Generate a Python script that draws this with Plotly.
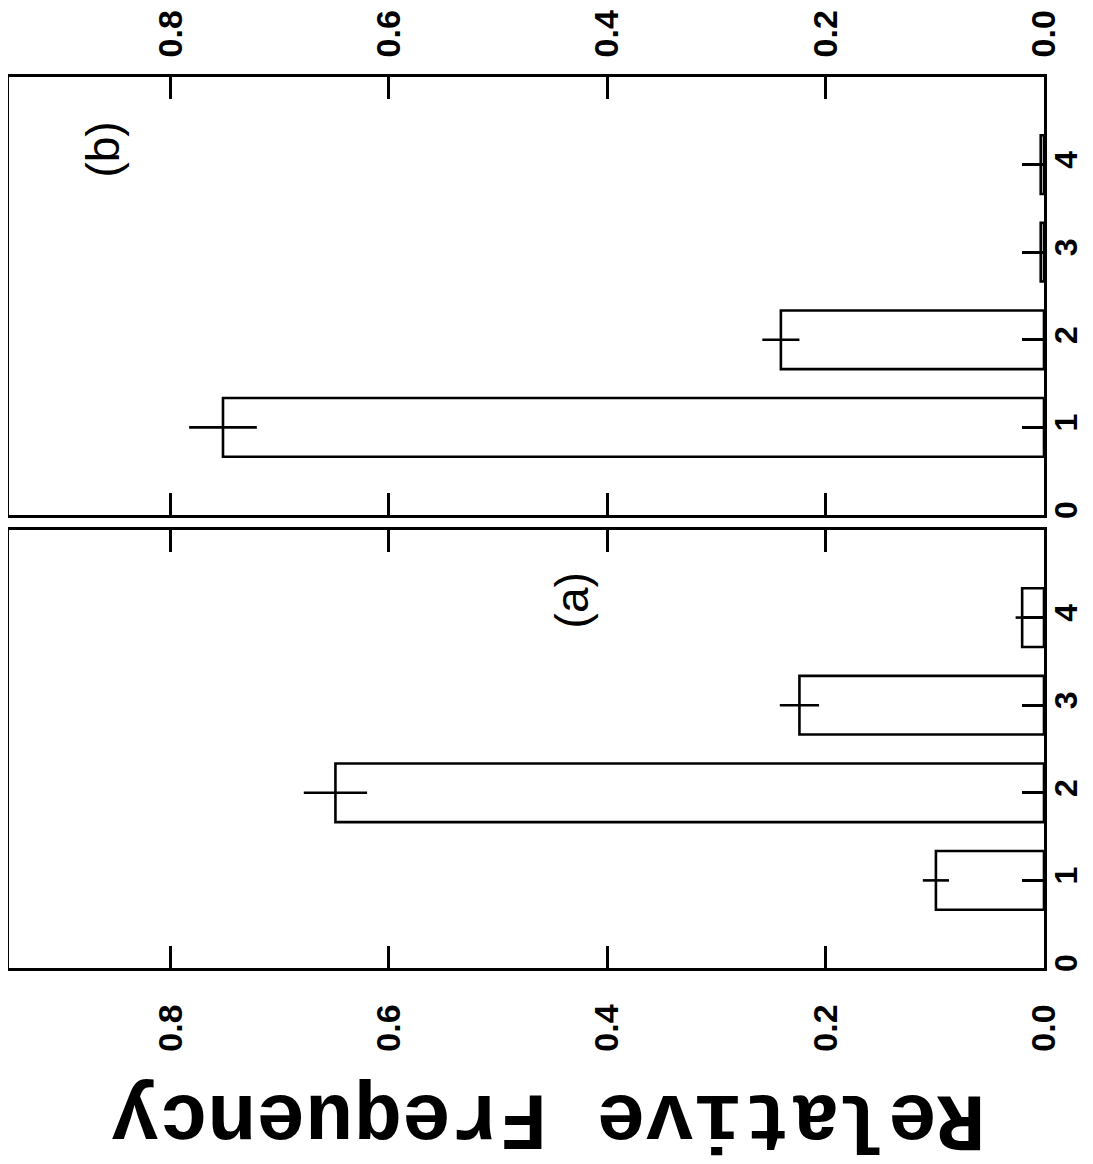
import plotly.graph_objects as go

# Data
categories_a = [1, 2, 3, 4]
freq_a = [0.099, 0.649, 0.224, 0.020]
err_a = [0.012, 0.029, 0.018, 0.006]

categories_b = [1, 2, 3, 4]
freq_b = [0.752, 0.241, 0.003, 0.003]
err_b = [0.031, 0.017, 0.0, 0.0]

value_ticks = [0.0, 0.2, 0.4, 0.6, 0.8]
value_tick_text = ["0.0", "0.2", "0.4", "0.6", "0.8"]
cat_ticks = [0, 1, 2, 3, 4]
cat_tick_text = ["0", "1", "2", "3", "4"]

LW = 2.6
tickfont = dict(family="Liberation Sans", size=34, color="black", weight="bold")

fig = go.Figure()

def add_bars(cats, vals, errs, xa, ya):
    fig.add_trace(go.Bar(
        y=cats, x=vals, orientation="h", width=0.67,
        marker=dict(color="white", line=dict(color="black", width=LW)),
        error_x=dict(type="data", array=errs, visible=True, width=0,
                     thickness=LW, color="black"),
        xaxis=xa, yaxis=ya, showlegend=False,
    ))

add_bars(categories_a, freq_a, err_a, "x", "y")
add_bars(categories_b, freq_b, err_b, "x2", "y2")

xcommon = dict(range=[0.948, 0], tickvals=value_ticks, ticktext=value_tick_text,
               ticks="inside", ticklen=22, tickwidth=LW, tickcolor="black",
               showline=True, linewidth=LW, linecolor="black", mirror="ticks",
               showgrid=False, zeroline=False, tickangle=-90, tickfont=tickfont,
               automargin=False)
ycommon = dict(range=[0, 5], tickvals=cat_ticks, ticktext=cat_tick_text,
               ticks="inside", ticklen=22, tickwidth=LW, tickcolor="black",
               showline=True, linewidth=LW, linecolor="black", mirror=True,
               showgrid=False, zeroline=False, tickangle=-90, side="right",
               tickfont=dict(family="Liberation Sans", size=32, color="black", weight="bold"),
               ticklabelstandoff=-8, automargin=False)

# page body has an 8px margin, so the figure is drawn 8px in from the top-left
fig.update_layout(
    width=1085, height=1156,
    margin=dict(l=1, r=49, t=69, b=196),
    paper_bgcolor="white", plot_bgcolor="white",
    bargap=0.3,
    xaxis=dict(domain=[0, 1], anchor="y", side="bottom", ticklabelstandoff=20, **xcommon),
    xaxis2=dict(domain=[0, 1], anchor="y2", side="top", ticklabelstandoff=10, **xcommon),
    yaxis=dict(domain=[0, 0.4916], anchor="x", **ycommon),
    yaxis2=dict(domain=[0.5084, 1], anchor="x2", **ycommon),
)

fig.add_annotation(text="(a)", x=0.432, y=4.2, xref="x", yref="y", showarrow=False,
                   textangle=-90, font=dict(family="Liberation Sans", size=46, color="black"))
fig.add_annotation(text="(b)", x=0.862, y=4.17, xref="x2", yref="y2", showarrow=False,
                   textangle=-90, font=dict(family="Liberation Sans", size=46, color="black"))
fig.add_annotation(text="Relative Frequency", x=0.521, y=-0.168, xref="paper", yref="paper",
                   showarrow=False, textangle=180, xanchor="center", yanchor="middle",
                   font=dict(family="Liberation Mono", size=81, color="black", weight="bold"))

fig.write_html("out.html")
